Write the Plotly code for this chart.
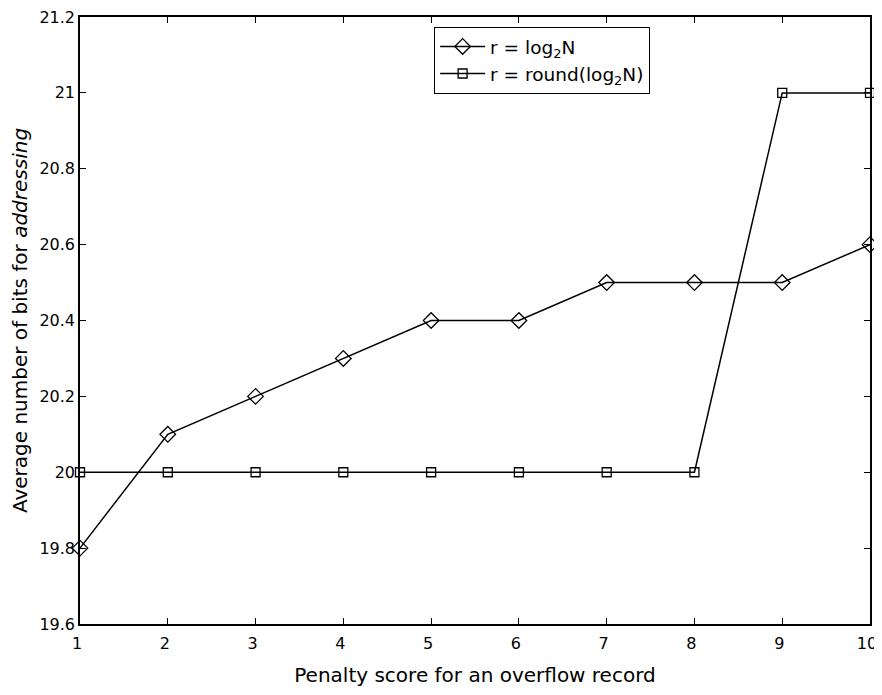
import plotly.graph_objects as go

x_vals = [1, 2, 3, 4, 5, 6, 7, 8, 9, 10]
log2n = [19.8, 20.1, 20.2, 20.3, 20.4, 20.4, 20.5, 20.5, 20.5, 20.6]
round_log2n = [20.0, 20.0, 20.0, 20.0, 20.0, 20.0, 20.0, 20.0, 21.0, 21.0]
y_ticks = [19.6, 19.8, 20.0, 20.2, 20.4, 20.6, 20.8, 21.0, 21.2]
y_tick_text = ["19.6", "19.8", "20", "20.2", "20.4", "20.6", "20.8", "21", "21.2"]

FONT = "DejaVu Sans, Liberation Sans, Arial, sans-serif"

fig = go.Figure()
fig.add_trace(go.Scatter(
    x=x_vals, y=log2n, mode="lines+markers", name="r = log<sub>2</sub>N",
    line=dict(color="black", width=1.5),
    marker=dict(symbol="diamond-open", size=12, color="black", line=dict(width=1.3)),
    cliponaxis=False,
))
fig.add_trace(go.Scatter(
    x=x_vals, y=round_log2n, mode="lines+markers", name="r = round(log<sub>2</sub>N)",
    line=dict(color="black", width=1.5),
    marker=dict(symbol="square-open", size=9, color="black", line=dict(width=1.3)),
    cliponaxis=False,
))

axis_common = dict(
    showgrid=False, zeroline=False, showline=True, linecolor="black", linewidth=1.6,
    mirror="ticks", ticks="inside", ticklen=6, tickcolor="black", tickwidth=1.2,
    tickfont=dict(family=FONT, size=16, color="black"), automargin=False,
    ticklabeloverflow="allow",
)

# page body has an 8px margin, so the figure is sized to fill the 882x695 window
fig.update_layout(
    width=874, height=687,
    margin=dict(l=72, r=12, t=9, b=71),
    paper_bgcolor="white", plot_bgcolor="white",
    font=dict(family=FONT, color="black"),
    xaxis=dict(range=[1, 10], tickvals=x_vals, ticklabelstandoff=4, ticklabelshift=-3,
               title=dict(text="Penalty score for an overflow record",
                          font=dict(family=FONT, size=20), standoff=16),
               **axis_common),
    yaxis=dict(range=[19.6, 21.2], tickvals=y_ticks, ticktext=y_tick_text,
               title=dict(text="Average number of bits for <i>addressing</i>",
                          font=dict(family=FONT, size=20), standoff=6),
               **axis_common),
    legend=dict(x=0.448, y=0.984, xanchor="left", yanchor="top",
                bordercolor="black", borderwidth=1.2, bgcolor="white",
                itemwidth=45,
                font=dict(family=FONT, size=18.5, color="black"), tracegroupgap=0),
    showlegend=True,
)

fig.write_html("out.html")
